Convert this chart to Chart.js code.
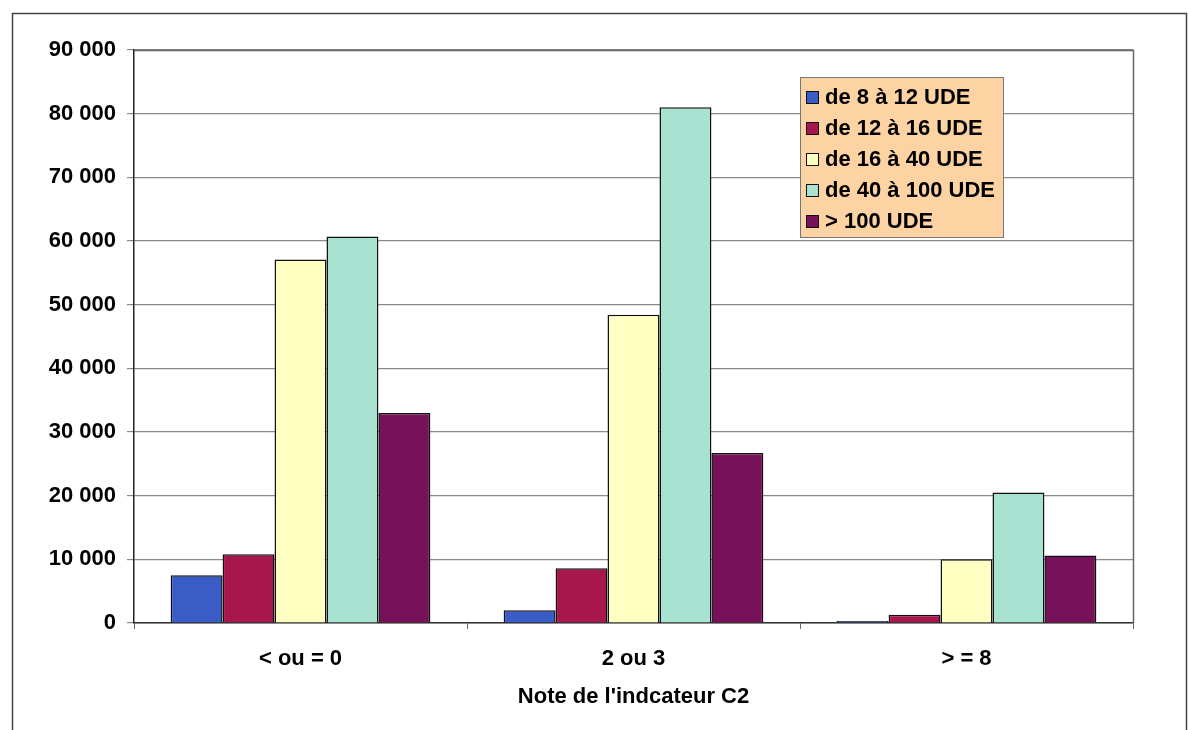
<!DOCTYPE html>
<html>
<head>
<meta charset="utf-8">
<script src="https://cdn.jsdelivr.net/npm/chart.js@4/dist/chart.umd.min.js"></script>
<style>
  html, body { margin: 0; padding: 0; background: #fff; }
  #wrap { width: 1188px; height: 730px; }
</style>
</head>
<body>
<div id="wrap"><canvas id="udeChart" width="1188" height="730"></canvas></div>
<script>
// Categories (note de l'indicateur C2)
const categories = ["< ou = 0", "2 ou 3", "> = 8"];

// One series per size class (UDE)
const seriesLabels = ["de 8 à 12 UDE", "de 12 à 16 UDE", "de 16 à 40 UDE", "de 40 à 100 UDE", "> 100 UDE"];
const ude8to12 = [7500, 2000, 300];
const ude12to16 = [10800, 8600, 1300];
const ude16to40 = [57100, 48400, 10000];
const ude40to100 = [60700, 81000, 20500];
const udeOver100 = [33000, 26700, 10600];

// y axis ticks
const yTicks = [0, 10000, 20000, 30000, 40000, 50000, 60000, 70000, 80000, 90000];

const seriesValues = [ude8to12, ude12to16, ude16to40, ude40to100, udeOver100];
const seriesColors = ['#3a5cc6', '#a8174c', '#ffffc2', '#a8e2d0', '#76115a'];

const font = { family: 'Arial, "Liberation Sans", sans-serif', size: 22, weight: 'bold' };

// draws the outer frame, plot border and the peach legend box
const framePlugin = {
    id: 'frame',
    beforeDraw(chart) {
        const ctx = chart.ctx;
        ctx.save();
        ctx.fillStyle = '#fff';
        ctx.fillRect(0, 0, chart.width, chart.height);
        ctx.strokeStyle = '#444';
        ctx.lineWidth = 1.5;
        ctx.strokeRect(12.5, 13.5, 1174, 760);
        ctx.restore();
    },
    afterDraw(chart) {
        const ctx = chart.ctx;
        const a = chart.chartArea;
        ctx.save();
        ctx.strokeStyle = '#666';
        ctx.lineWidth = 1.5;
        ctx.beginPath();
        ctx.moveTo(a.left, a.top + 0.5);
        ctx.lineTo(a.right + 0.5, a.top + 0.5);
        ctx.lineTo(a.right + 0.5, a.bottom);
        ctx.stroke();

        // legend
        const lx = 800, ly = 77, lw = 203, lh = 160;
        ctx.fillStyle = '#fdd3a4';
        ctx.fillRect(lx, ly, lw, lh);
        ctx.strokeStyle = '#777';
        ctx.lineWidth = 1;
        ctx.strokeRect(lx + 0.5, ly + 0.5, lw, lh);
        ctx.font = 'bold 22px Arial, "Liberation Sans", sans-serif';
        ctx.textBaseline = 'middle';
        ctx.textAlign = 'left';
        chart.data.datasets.forEach((ds, i) => {
            const cy = ly + 20 + i * 31;
            ctx.fillStyle = ds.backgroundColor;
            ctx.fillRect(806, cy - 6, 13, 13);
            ctx.strokeStyle = '#111';
            ctx.strokeRect(806.5, cy - 5.5, 12, 12);
            ctx.fillStyle = '#000';
            ctx.fillText(ds.label, 825, cy + 1);
        });
        ctx.restore();
    }
};

new Chart(document.getElementById('udeChart').getContext('2d'), {
    type: 'bar',
    data: {
        labels: categories,
        datasets: seriesLabels.map((label, i) => ({
            label: label,
            data: seriesValues[i],
            backgroundColor: seriesColors[i],
            borderColor: '#111',
            borderWidth: 1.5,
            categoryPercentage: 0.78,
            barPercentage: 1
        }))
    },
    options: {
        responsive: false,
        animation: false,
        layout: { padding: { top: 50, right: 55, left: 0, bottom: 0 } },
        plugins: {
            legend: { display: false },
            tooltip: { enabled: false }
        },
        scales: {
            x: {
                afterFit: s => { s.height = 107; },
                grid: { drawOnChartArea: false, drawTicks: true, tickLength: 6, color: '#666', offset: true },
                border: { color: '#333', width: 1.5 },
                ticks: { color: '#000', font: font, padding: 17 },
                title: {
                    display: true,
                    text: "Note de l'indcateur C2",
                    color: '#000',
                    font: font,
                    padding: { top: 0, bottom: 20 }
                }
            },
            y: {
                min: 0,
                max: 90000,
                afterFit: s => { s.width = 134; },
                afterBuildTicks: s => { s.ticks = yTicks.map(v => ({ value: v })); },
                grid: { color: '#8a8a8a', lineWidth: 1.2, tickLength: 7 },
                border: { color: '#222', width: 1.5 },
                ticks: {
                    color: '#000',
                    font: font,
                    padding: 11,
                    callback: v => String(v).replace(/\B(?=(\d{3})+(?!\d))/g, ' ')
                }
            }
        }
    },
    plugins: [framePlugin]
});
</script>
</body>
</html>
